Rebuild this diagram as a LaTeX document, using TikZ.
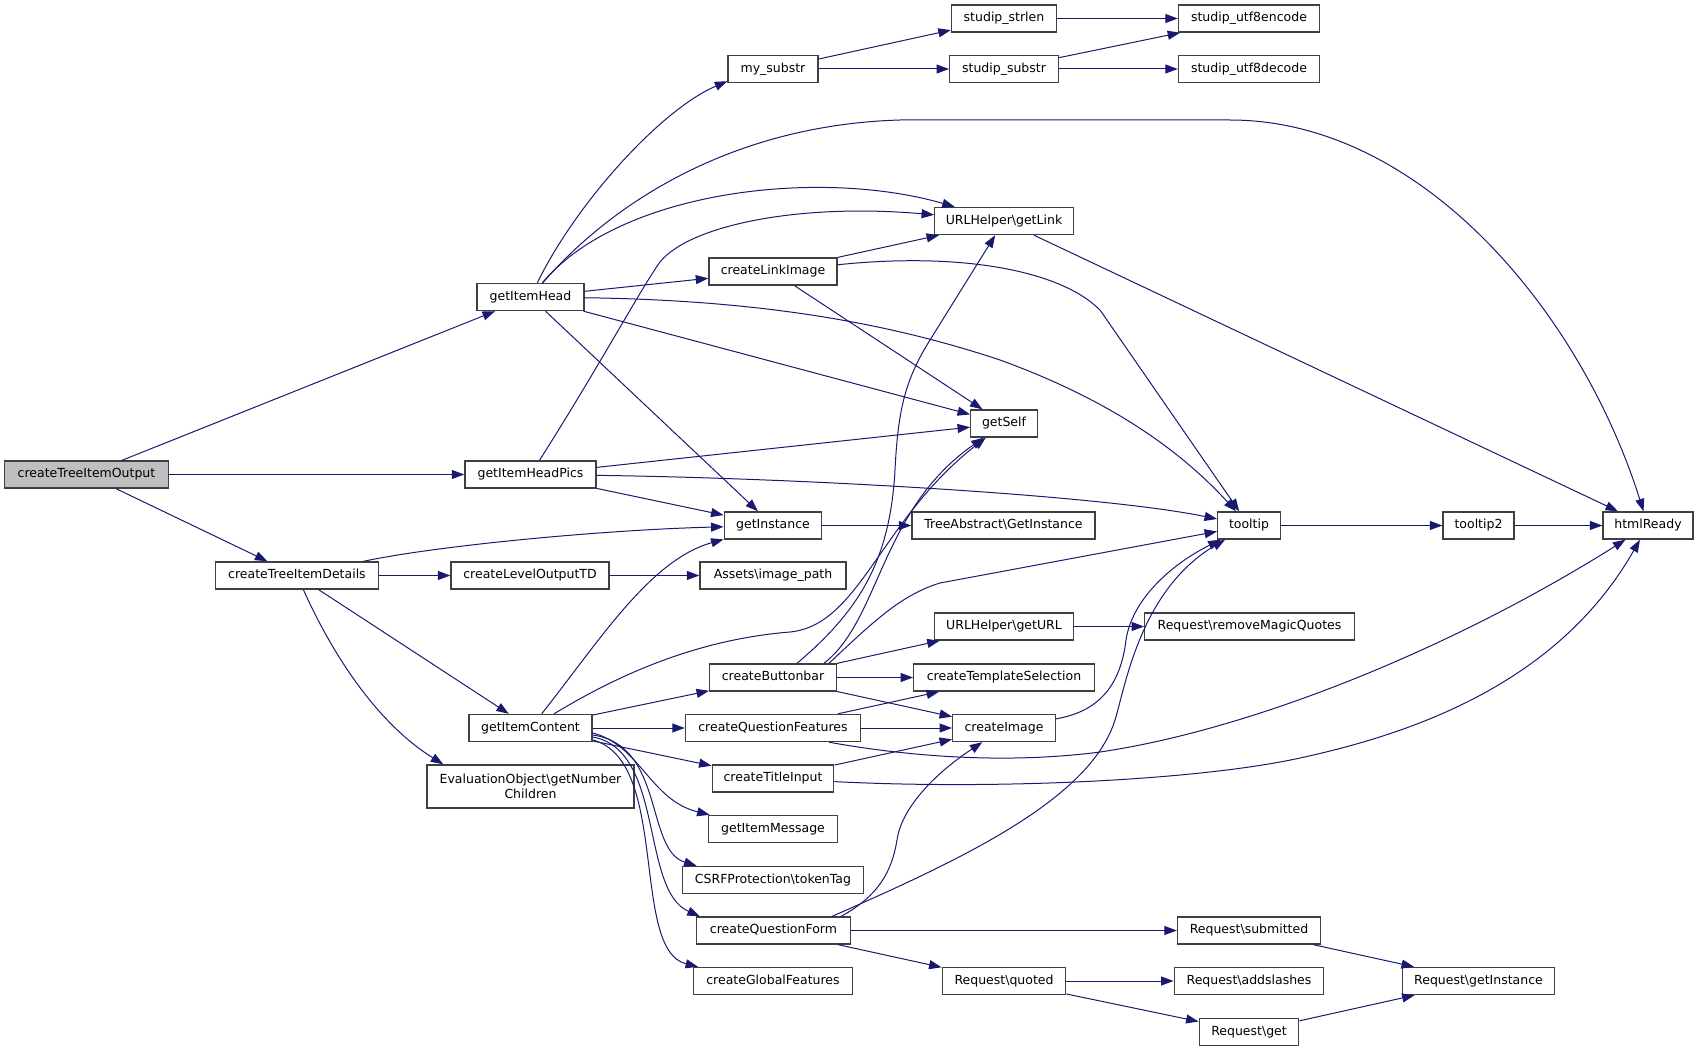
\documentclass[tikz,border=0pt]{standalone}
\usepackage{fontspec}
\setmainfont{DejaVu Sans}
\usetikzlibrary{arrows.meta}
\definecolor{edgec}{HTML}{191970}
\definecolor{boxc}{HTML}{404040}
\begin{document}
\begin{tikzpicture}[x=1pt,y=-1pt,
  fn/.style={draw=boxc, fill=white, line width=1.4pt, minimum height=27pt, inner sep=0pt,
    text height=9.4pt, text depth=2.6pt, font=\fontsize{12.5}{15.3}\selectfont},
  fntwo/.style={draw=boxc, fill=white, line width=1.4pt, inner sep=0pt, align=center,
    font=\fontsize{12.5}{15.3}\selectfont},
  e/.style={draw=edgec, line width=1pt, -{Triangle[length=12.5pt,width=9pt]}},
]
\useasboundingbox (0,0) rectangle (1699,1051);
% nodes
\node[fn,fill=black!25,minimum width=164pt] (root) at (86.5,474.5) {createTreeItemOutput};
\node[fn,minimum width=107pt] (gih) at (530.5,297) {getItemHead};
\node[fn,minimum width=131pt] (gihp) at (530.5,474.5) {getItemHeadPics};
\node[fn,minimum width=163.5pt] (ctid) at (297,575.5) {createTreeItemDetails};
\node[fn,minimum width=158pt] (clo) at (530,575.5) {createLevelOutputTD};
\node[fn,minimum width=123pt] (gic) at (530.5,728) {getItemContent};
\node[fntwo,minimum width=207pt,minimum height=43pt] (evo) at (530.5,786.5) {EvaluationObject\textbackslash getNumber\\Children};
\node[fn,minimum width=90pt] (mys) at (773,69) {my\_substr};
\node[fn,minimum width=105pt] (sstrlen) at (1004,18.5) {studip\_strlen};
\node[fn,minimum width=108.5pt] (ssubstr) at (1004,69) {studip\_substr};
\node[fn,minimum width=141pt] (enc) at (1249,18.5) {studip\_utf8encode};
\node[fn,minimum width=141pt] (dec) at (1249,69) {studip\_utf8decode};
\node[fn,minimum width=138.5pt] (glink) at (1004,221) {URLHelper\textbackslash getLink};
\node[fn,minimum width=128pt] (cli) at (773,271.5) {createLinkImage};
\node[fn,minimum width=66.5pt] (gself) at (1004,423.5) {getSelf};
\node[fn,minimum width=97.5pt] (ginst) at (773,525.5) {getInstance};
\node[fn,minimum width=183pt] (tree) at (1003.5,525.5) {TreeAbstract\textbackslash GetInstance};
\node[fn,minimum width=146pt] (assets) at (773,575.5) {Assets\textbackslash image\_path};
\node[fn,minimum width=138.5pt] (gurl) at (1004,626.5) {URLHelper\textbackslash getURL};
\node[fn,minimum width=126.5pt] (cbb) at (773,677.5) {createButtonbar};
\node[fn,minimum width=180.5pt] (cts) at (1004,677.5) {createTemplateSelection};
\node[fn,minimum width=209.5pt] (rmq) at (1249.5,626.5) {Request\textbackslash removeMagicQuotes};
\node[fn,minimum width=62.5pt] (tt) at (1249,525.5) {tooltip};
\node[fn,minimum width=71pt] (tt2) at (1478.5,525.5) {tooltip2};
\node[fn,minimum width=90pt] (html) at (1648,525.5) {htmlReady};
\node[fn,minimum width=102.5pt] (cimg) at (1004,728) {createImage};
\node[fn,minimum width=175pt] (cqf) at (773,728) {createQuestionFeatures};
\node[fn,minimum width=121.5pt] (cti) at (773,778.5) {createTitleInput};
\node[fn,minimum width=129.5pt] (gim) at (773,829) {getItemMessage};
\node[fn,minimum width=181.5pt] (csrf) at (773,880) {CSRFProtection\textbackslash tokenTag};
\node[fn,minimum width=154pt] (cqform) at (773.5,930.5) {createQuestionForm};
\node[fn,minimum width=158.5pt] (cgf) at (773,981) {createGlobalFeatures};
\node[fn,minimum width=123.5pt] (rq) at (1004,981) {Request\textbackslash quoted};
\node[fn,minimum width=143pt] (rsub) at (1249,930.5) {Request\textbackslash submitted};
\node[fn,minimum width=149.5pt] (radd) at (1249,981) {Request\textbackslash addslashes};
\node[fn,minimum width=99.5pt] (rget) at (1249,1032) {Request\textbackslash get};
\node[fn,minimum width=152pt] (rgi) at (1478.5,981) {Request\textbackslash getInstance};
% edges
\draw[e] (root) -- (gih);
\draw[e] (root) -- (gihp);
\draw[e] (root) -- (ctid);
\draw[e] (gih) .. controls (575,205) and (660,110) .. ([yshift=2pt]mys.south west);
\draw[e] (gih) .. controls (610,205) and (730,125) .. (900,120) -- (1230,120) .. controls (1420,120) and (1580,310) .. (html);
\draw[e] (gih) .. controls (620,190) and (820,168) .. (glink);
\draw[e] (gihp) .. controls (600,365) and (640,290) .. (660,262) .. controls (690,225) and (800,203) .. (glink);
\draw[e] (gih) -- (cli);
\draw[e] (gih) -- (gself);
\draw[e] (gih) -- (ginst);
\draw[e] (gih) .. controls (750,300) and (880,320) .. (1000,360) .. controls (1110,400) and (1180,450) .. (tt);
\draw[e] (cli) -- (glink);
\draw[e] (cli) .. controls (960,252) and (1060,270) .. (1100,310) -- (tt);
\draw[e] (cli) -- (gself);
\draw[e] (mys) -- (sstrlen);
\draw[e] (mys) -- (ssubstr);
\draw[e] (sstrlen) -- (enc);
\draw[e] (ssubstr) -- (enc);
\draw[e] (ssubstr) -- (dec);
\draw[e] (glink) -- (html);
\draw[e] (gihp) -- (gself);
\draw[e] (gihp) .. controls (800,478) and (1100,495) .. (tt);
\draw[e] (gihp) -- (ginst);
\draw[e] (ctid) .. controls (435,546) and (600,530) .. (ginst);
\draw[e] (ctid) -- (clo);
\draw[e] (ctid) -- (gic);
\draw[e] (ctid) .. controls (335,660) and (380,725) .. ([xshift=17pt]evo.north west);
\draw[e] (clo) -- (assets);
\draw[e] (ginst) -- (tree);
\draw[e] (tt) -- (tt2);
\draw[e] (tt2) -- (html);
\draw[e] (gic) .. controls (600,640) and (650,560) .. (ginst);
\draw[e] (gic) .. controls (610,680) and (690,640) .. (790,632) .. controls (860,625) and (880,520) .. (gself);
\draw[e] (gic) -- (cbb);
\draw[e] (gic) -- (cqf);
\draw[e] (gic) -- (cti);
\draw[e] ([yshift=-5pt]gic.east) .. controls (640,745) and (650,800) .. ([xshift=2pt]gim.north west);
\draw[e] ([yshift=-7pt]gic.east) .. controls (665,745) and (645,850) .. ([xshift=15pt]csrf.north west);
\draw[e] ([yshift=-9pt]gic.east) .. controls (665,750) and (640,890) .. ([xshift=4pt]cqform.north west);
\draw[e] ([yshift=-12pt]gic.east) .. controls (670,760) and (630,950) .. ([xshift=5pt]cgf.north west);
\draw[e] (cbb) -- (gurl);
\draw[e] (cbb) -- (cts);
\draw[e] (cbb) -- (cimg);
\draw[e] ([xshift=24pt]cbb.north) .. controls (860,610) and (890,560) .. (895,470) .. controls (898,410) and (905,380) .. (930,340) -- (glink);
\draw[e] ([xshift=-13pt]cbb.north east) .. controls (880,620) and (880,510) .. (gself);
\draw[e] ([xshift=-8pt]cbb.north east) .. controls (870,625) and (900,595) .. (940,583) -- (tt);
\draw[e] (gurl) -- (rmq);
\draw[e] (cqf) -- (cts);
\draw[e] (cqf) -- (cimg);
\draw[e] ([xshift=56pt]cqf.south) .. controls (900,755) and (1000,765) .. (1100,752) .. controls (1250,730) and (1450,650) .. (html);
\draw[e] (cti) -- (cimg);
\draw[e] (cti) .. controls (1000,790) and (1200,780) .. (1300,758) .. controls (1420,732) and (1560,680) .. (html);
\draw[e] (cimg) .. controls (1095,712) and (1120,690) .. (1126,640) .. controls (1132,600) and (1170,565) .. (tt);
\draw[e] ([xshift=-10pt]cqform.north east) .. controls (880,895) and (892,870) .. (897,840) .. controls (902,805) and (940,770) .. (cimg);
\draw[e] ([xshift=-19pt]cqform.north east) .. controls (960,860) and (1090,800) .. (1115,720) .. controls (1125,688) and (1140,590) .. (tt);
\draw[e] (cqform) -- (rsub);
\draw[e] (cqform) -- (rq);
\draw[e] (rq) -- (radd);
\draw[e] (rq) -- (rget);
\draw[e] (rsub) -- (rgi);
\draw[e] (rget) -- (rgi);
\end{tikzpicture}
\end{document}
